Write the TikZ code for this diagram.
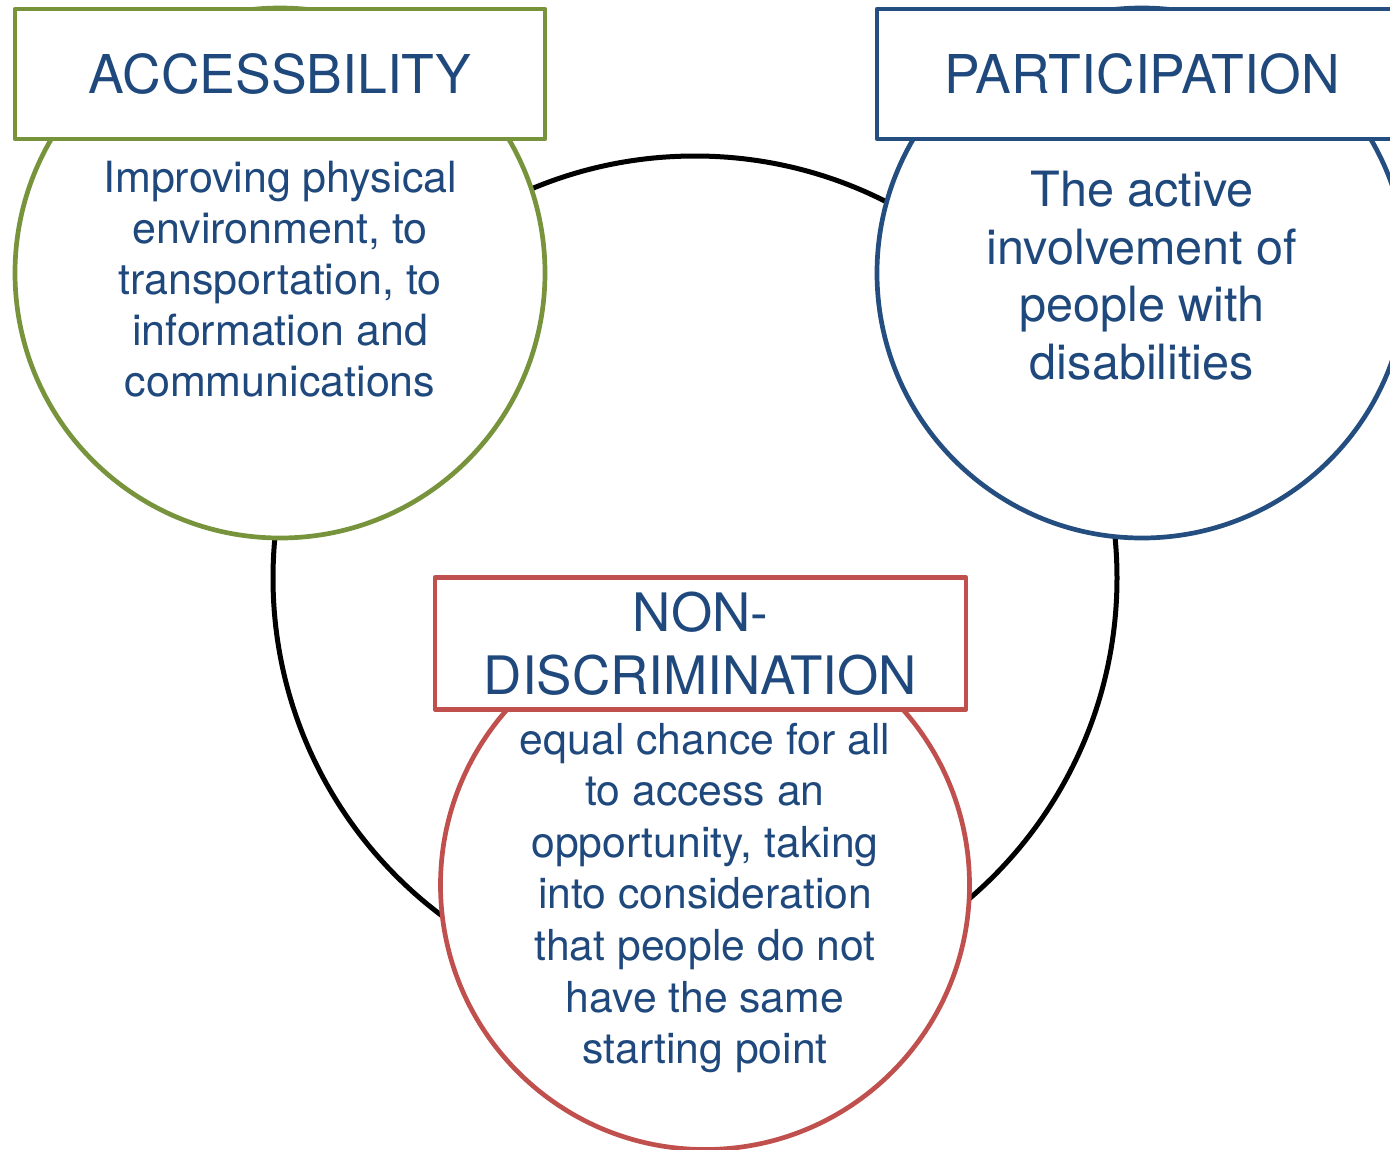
\documentclass[tikz,border=0pt]{standalone}
\usepackage{fontspec}
\setmainfont{TeX Gyre Heros}
\definecolor{txtblue}{HTML}{1F497D}
\definecolor{accgreen}{HTML}{77933C}
\definecolor{partblue}{HTML}{254E80}
\definecolor{ndred}{HTML}{C0504D}
\begin{document}
\begin{tikzpicture}[x=1pt,y=-1pt,
  ring/.style={circle, inner sep=0pt, outer sep=0pt, line width=4.7pt, fill=white},
  titlebox/.style={rectangle, inner sep=0pt, outer sep=0pt, line width=4.7pt, line join=round, fill=white,
    minimum width=530pt, text=txtblue, align=center},
  bodytext/.style={inner sep=0pt, text=txtblue, align=center}]
\useasboundingbox (0,0) rectangle (1390,1149);
\clip (0,0) rectangle (1390,1149);
% big black circle
\node[ring, draw=black, line width=5pt, minimum size=844pt] (big) at (695,578) {};
% coloured circles
\node[ring, draw=accgreen, minimum size=530pt] (accC) at (280,273) {};
\node[ring, draw=partblue, minimum size=530pt] (partC) at (1142,273) {};
\node[ring, draw=ndred, minimum size=529pt] (ndC) at (705,885) {};
% title boxes
\node[titlebox, draw=accgreen, minimum height=130pt, font=\fontsize{53.5}{63}\selectfont] (accT) at (280,74) {\raisebox{-1.5pt}{ACCESSBILITY}};
\node[titlebox, draw=partblue, minimum height=130pt, font=\fontsize{53.5}{63}\selectfont] (partT) at (1142,74) {\raisebox{-1.5pt}{PARTICIPATION}};
\node[titlebox, draw=ndred, minimum width=531pt, minimum height=132pt, font=\fontsize{53}{63}\selectfont] (ndT) at (700.5,643.5) {NON-\\DISCRIMINATION};
% body texts
\node[bodytext, font=\fontsize{43}{51}\selectfont] (accB) at (280,279.5)
  {Improving physical\\environment, to\\transportation, to\\information and\\communications};
\node[bodytext, font=\fontsize{48.6}{57.5}\selectfont] (partB) at (1142,275.5)
  {The active\\involvement of\\people with\\disabilities};
\node[bodytext, font=\fontsize{42.7}{51.6}\selectfont] (ndB) at (705,898)
  {equal chance for all\\to access an\\opportunity, taking\\into consideration\\that people do not\\have the same\\starting point};
\end{tikzpicture}
\end{document}
